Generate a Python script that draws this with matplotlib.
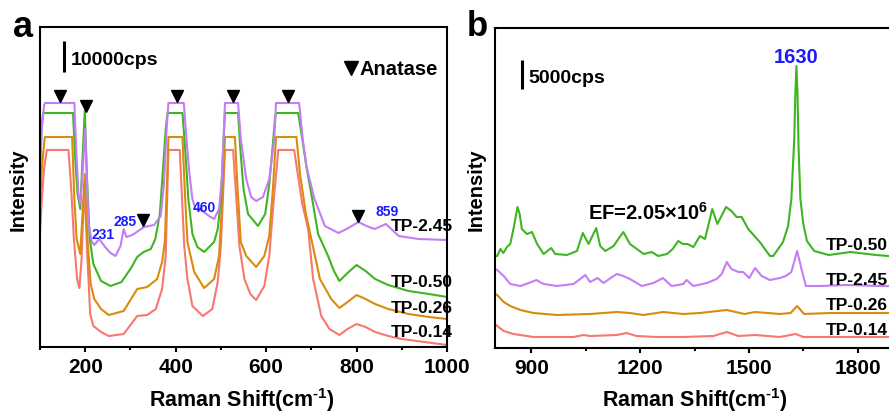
import matplotlib
matplotlib.use('Agg')
import matplotlib.pyplot as plt
from matplotlib.ticker import MultipleLocator

plt.rcParams['font.family'] = ['Liberation Sans', 'DejaVu Sans']
plt.rcParams['font.weight'] = 'bold'
plt.rcParams['mathtext.fontset'] = 'custom'
plt.rcParams['mathtext.rm'] = 'Liberation Sans:bold'
plt.rcParams['mathtext.bf'] = 'Liberation Sans:bold'
plt.rcParams['mathtext.it'] = 'Liberation Sans:bold:italic'
plt.rcParams['mathtext.default'] = 'bf'

# ---------------- data: panel a (intensity in a.u., 31 a.u. = 10000 cps) -------------
labels = ['TP-0.14', 'TP-0.26', 'TP-0.50', 'TP-2.45']
colors = ['#f7786f', '#d98b0c', '#3fb521', '#c37df7']

a_x_014 = [100, 104, 109, 115, 163, 169, 175, 182, 187, 192, 198, 205, 211, 218, 235, 252, 285, 315, 337, 356,
           370, 378, 384, 409, 419, 426, 437, 460, 481, 493, 500, 509, 527, 541, 552, 565, 578, 596, 607, 617,
           627, 662, 670, 680, 693, 704, 722, 740, 762, 780, 800, 820, 841, 870, 900, 950, 1000]
a_y_014 = [113, 148, 178, 197, 197, 158, 108, 68, 59, 88, 163, 88, 33, 21, 15, 11, 13, 31, 32, 38,
           58, 91, 197, 197, 101, 68, 41, 31, 38, 65, 101, 197, 197, 101, 68, 53, 47, 61, 91, 148,
           197, 197, 173, 143, 118, 68, 31, 18, 12, 18, 23, 20, 15, 11, 8, 5, 2]

a_x_026 = [100, 104, 110, 111, 171, 176, 181, 189, 194, 199, 205, 212, 220, 235, 252, 285, 315, 337, 359, 370,
           376, 381, 384, 415, 420, 426, 441, 463, 485, 496, 503, 509, 531, 537, 544, 556, 578, 596, 607, 615,
           622, 667, 675, 688, 700, 719, 744, 762, 780, 800, 820, 841, 870, 915, 960, 1000]
a_y_026 = [143, 178, 208, 210, 210, 148, 108, 93, 133, 173, 108, 63, 48, 38, 32, 36, 58, 60, 68, 85,
           105, 168, 210, 210, 158, 105, 75, 59, 68, 91, 148, 210, 210, 158, 105, 91, 80, 91, 111, 158,
           210, 210, 173, 133, 108, 68, 48, 39, 45, 52, 48, 43, 38, 33, 30, 28]

a_x_050 = [100, 104, 107, 173, 178, 183, 189, 194, 199, 204, 210, 218, 235, 256, 280, 300, 315, 329, 345, 355,
           365, 372, 378, 382, 415, 421, 428, 437, 448, 463, 485, 493, 500, 505, 509, 538, 543, 550, 560, 582,
           598, 607, 614, 620, 622, 671, 680, 690, 700, 715, 737, 750, 762, 780, 800, 820, 841, 870, 915, 960,
           1000]
a_y_050 = [183, 223, 234, 234, 188, 153, 138, 188, 236, 168, 108, 83, 66, 61, 65, 78, 90, 95, 98, 108,
           133, 178, 218, 234, 234, 198, 148, 113, 100, 95, 105, 118, 148, 198, 234, 234, 198, 158, 133, 121,
           133, 163, 198, 230, 234, 234, 208, 178, 153, 113, 91, 76, 66, 74, 82, 76, 68, 62, 56, 53,
           50]

a_x_245 = [100, 104, 109, 111, 176, 180, 185, 189, 194, 200, 207, 214, 220, 231, 244, 256, 267, 278, 285, 291,
           304, 330, 352, 367, 374, 380, 384, 418, 424, 430, 437, 444, 459, 474, 485, 496, 502, 506, 509, 538,
           544, 556, 567, 578, 593, 607, 618, 622, 673, 681, 689, 707, 730, 760, 782, 804, 822, 840, 865, 893,
           937, 1000]
a_y_245 = [173, 218, 242, 244, 244, 198, 153, 143, 173, 218, 125, 106, 102, 108, 100, 94, 91, 101, 118, 110,
           112, 120, 122, 131, 163, 218, 244, 244, 208, 175, 148, 138, 136, 131, 128, 138, 168, 208, 244, 244,
           208, 168, 150, 146, 150, 168, 208, 244, 244, 208, 181, 148, 121, 114, 119, 125, 121, 118, 123, 111,
           108, 107]

# anatase marks (x position in cm-1, marker height in a.u.)
anatase_x = [144, 202, 404, 527, 649, 327, 804]
anatase_y = [251, 241, 251, 251, 251, 127, 131]
peak_a_text = ['231', '285', '460', '859']
peak_a_x = [240, 287, 464, 867]
peak_a_y = [113, 126, 140, 136]
label_a_y = [11, 35, 61, 117]

# ---------------- data: panel b -------------
b_x_050 = [800, 806, 815, 823, 833, 842, 852, 862, 868, 874, 888, 902, 916, 934, 955, 966, 998, 1026, 1042, 1058,
           1079, 1090, 1104, 1127, 1140, 1154, 1172, 1191, 1210, 1232, 1250, 1274, 1290, 1305, 1318, 1331, 1347,
           1365, 1379, 1399, 1413, 1437, 1452, 1466, 1480, 1498, 1530, 1558, 1567, 1594, 1608, 1617, 1625, 1628,
           1631, 1634, 1637, 1642, 1650, 1660, 1680, 1720, 1780, 1850, 1885, 1900]
b_y_050 = [92, 92, 99, 95, 101, 104, 121, 141, 134, 119, 114, 116, 104, 94, 100, 94, 93, 97, 115, 104,
           120, 102, 97, 102, 109, 116, 104, 99, 94, 96, 92, 94, 99, 107, 104, 104, 101,
           112, 109, 139, 124, 141, 137, 131, 131, 119, 106, 92, 92, 106, 122, 149, 209, 254,
           282, 254, 199, 149, 124, 107, 97, 93, 96, 93, 92, 91]

b_x_245 = [800, 806, 824, 842, 870, 893, 914, 934, 971, 1016, 1035, 1049, 1062, 1083, 1099, 1127, 1136, 1154,
           1172, 1205, 1237, 1263, 1287, 1319, 1328, 1347, 1384, 1411, 1425, 1439, 1452, 1471, 1484, 1501, 1517,
           1535, 1558, 1585, 1602, 1617, 1633, 1645, 1657, 1695, 1769, 1861, 1900]
b_y_245 = [79, 78, 72, 64, 62, 65, 68, 64, 62, 64, 69, 73, 66, 70, 65, 72, 74, 72,
           69, 62, 65, 70, 62, 64, 68, 62, 65, 69, 74, 86, 79, 76, 76, 70, 80,
           72, 68, 70, 72, 76, 97, 79, 62, 62, 63, 62, 62]

b_x_026 = [800, 806, 824, 842, 870, 906, 971, 1062, 1136, 1172, 1209, 1264, 1319, 1365, 1439, 1488, 1517, 1585,
           1615, 1633, 1652, 1723, 1861, 1900]
b_y_026 = [54, 53, 46, 42, 38, 35, 33, 34, 36, 35, 33, 36, 34, 35, 38, 34, 36, 34,
           35, 42, 34, 35, 35, 35]

b_x_014 = [800, 806, 824, 851, 906, 1016, 1044, 1062, 1136, 1163, 1190, 1245, 1319, 1402, 1439, 1471, 1517,
           1585, 1629, 1650, 1861, 1900]
b_y_014 = [24, 22, 17, 14, 11, 11, 13, 12, 13, 15, 12, 11, 11, 12, 16, 12, 13,
           11, 14, 11, 11, 11]
label_b_y = [14, 39, 99, 64]

# ---------------- figure ----------------
W, H = 889, 414
fig = plt.figure(figsize=(W / 100, H / 100), dpi=100)
axA = fig.add_axes([40 / W, 66 / H, 407 / W, 320 / H])
axB = fig.add_axes([495 / W, 65 / H, 399 / W, 320 / H])
BLUE = '#1a1aff'


def ftext(px, py, s, **kw):
    fig.text(px / W, 1 - py / H, s, **kw)


for ax in (axA, axB):
    for sp in ax.spines.values():
        sp.set_linewidth(1.5)
    ax.set_yticks([])
    ax.tick_params(axis='x', which='major', direction='out', length=3.6, width=1.5,
                   labelsize=15, pad=3.5)
    ax.tick_params(axis='x', which='minor', direction='out', length=2.4, width=1.5)

# panel a
a_series = [(a_x_014, a_y_014), (a_x_026, a_y_026), (a_x_050, a_y_050), (a_x_245, a_y_245)]
for (xs, ys), c in zip(a_series, colors):
    axA.plot(xs, ys, color=c, lw=1.5, solid_joinstyle='round')
axA.set_xlim(100, 1000)
axA.set_ylim(0, 320)
axA.xaxis.set_major_locator(MultipleLocator(200))
axA.xaxis.set_minor_locator(MultipleLocator(100))
axA.plot(anatase_x, anatase_y, 'v', color='black', ms=9, clip_on=False)
for s, x, y in zip(peak_a_text, peak_a_x, peak_a_y):
    axA.text(x, y, s, color=BLUE, fontsize=10, fontweight='bold', ha='center', va='center')
for lab, y in zip(labels, label_a_y):
    axA.text(876, y, lab, fontsize=12.5, fontweight='bold', ha='left', va='baseline')
# scale bar and legend
axA.plot([153, 153], [275, 306], color='black', lw=2.2, solid_capstyle='butt')
axA.text(167, 283, '10000cps', fontsize=14, fontweight='bold', ha='left', va='baseline')
axA.plot([787], [279], 'v', color='black', ms=9.5)
axA.text(807, 272.7, 'Anatase', fontsize=14.5, fontweight='bold', ha='left', va='baseline')

# panel b
b_series = [(b_x_014, b_y_014), (b_x_026, b_y_026), (b_x_050, b_y_050), (b_x_245, b_y_245)]
for (xs, ys), c in zip(b_series, colors):
    axB.plot(xs, ys, color=c, lw=1.5, solid_joinstyle='round')
axB.set_xlim(800, 1900)
axB.set_ylim(0, 320)
axB.xaxis.set_major_locator(MultipleLocator(300))
axB.xaxis.set_minor_locator(MultipleLocator(150))
for lab, y in zip(labels, label_b_y):
    axB.text(1711, y, lab, fontsize=12.5, fontweight='bold', ha='left', va='baseline')
axB.plot([875, 875], [259, 288], color='black', lw=2.2, solid_capstyle='butt', clip_on=False)
axB.text(892, 266.3, '5000cps', fontsize=14, fontweight='bold', ha='left', va='baseline')
axB.text(1629, 286.3, '1630', color=BLUE, fontsize=14.5, fontweight='bold', ha='center', va='baseline')
axB.text(1057, 129, r'EF=2.05×10$^{6}$', fontsize=14.5, fontweight='bold', ha='left', va='baseline')

# axis labels and panel letters
xl = r'Raman Shift(cm$^{\text{-}1}$)'
ftext(242, 406.7, xl, fontsize=15.5, fontweight='bold', ha='center', va='baseline')
ftext(695, 406.7, xl, fontsize=15.5, fontweight='bold', ha='center', va='baseline')
ftext(18, 190, 'Intensity', fontsize=14.5, fontweight='bold', rotation=90, ha='center', va='center')
ftext(476, 190, 'Intensity', fontsize=14.5, fontweight='bold', rotation=90, ha='center', va='center')
ftext(13, 36.7, 'a', fontsize=26, fontweight='bold', ha='left', va='baseline')
ftext(467, 36, 'b', fontsize=25, fontweight='bold', ha='left', va='baseline')

fig.savefig('out.png', dpi=100)
